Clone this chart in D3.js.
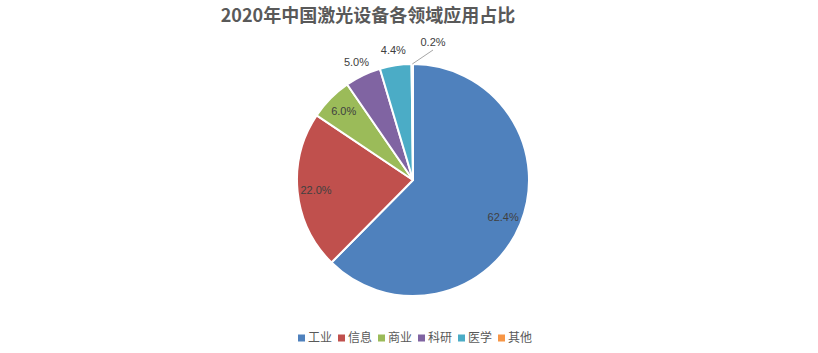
<!DOCTYPE html>
<html>
<head>
<meta charset="utf-8">
<script src="https://cdn.jsdelivr.net/npm/d3@7"></script>
<style>
  body { margin: 0; background: #fff; }
  svg { display: block; }
</style>
</head>
<body>
<div id="mainContainer"><svg></svg></div>
<script>
const WIDTH = 818;
const HEIGHT = 353;

// chart data
const categories = ['工业', '信息', '商业', '科研', '医学', '其他'];
const shares = [62.4, 22.0, 6.0, 5.0, 4.4, 0.2];
const colors = ['#4F81BD', '#C0504D', '#9BBB59', '#8064A2', '#4BACC6', '#F79646'];
const title = '2020年中国激光设备各领域应用占比';

const CX = 413, CY = 180, R = 116;

let svg = d3.select('svg')
    .attr('width', WIDTH)
    .attr('height', HEIGHT)
    .style('font-family', '"Noto Sans CJK SC", "Noto Sans", sans-serif');

svg.append('text')
    .attr('x', 368)
    .attr('y', 22)
    .attr('text-anchor', 'middle')
    .attr('font-size', 18)
    .attr('font-weight', 'bold')
    .attr('fill', '#595959')
    .text(title);

let data = categories.map((c, i) => ({ name: c, value: shares[i], color: colors[i] }));

let pie = d3.pie().sort(null).value(d => d.value);
let arcs = pie(data);
let arc = d3.arc().innerRadius(0).outerRadius(R);

let g = svg.append('g').attr('transform', `translate(${CX},${CY})`);

g.selectAll('path')
    .data(arcs)
    .enter()
    .append('path')
    .attr('d', arc)
    .attr('fill', d => d.data.color)
    .attr('stroke', '#fff')
    .attr('stroke-width', 2)
    .attr('stroke-linejoin', 'round');

// labels: inside for big slices, outside for small ones
const pos = (d, r) => {
    let a = (d.startAngle + d.endAngle) / 2;
    return [Math.sin(a) * r, -Math.cos(a) * r];
};

g.selectAll('text.lbl')
    .data(arcs)
    .enter()
    .append('text')
    .attr('class', 'lbl')
    .each(function (d) {
        let node = d3.select(this);
        let p;
        if (d.data.value >= 6) p = pos(d, R * 0.84);
        else if (d.data.value >= 1) p = pos(d, R * 1.13);
        else p = [20, -138];
        node.attr('x', p[0]).attr('y', p[1]);
    })
    .attr('text-anchor', 'middle')
    .attr('dy', '0.35em')
    .attr('font-size', 11)
    .attr('fill', '#404040')
    .style('font-family', '"Liberation Sans", Arial, sans-serif')
    .text(d => d.data.value.toFixed(1) + '%');

// leader line for the tiny slice
let tiny = arcs[arcs.length - 1];
let p0 = pos(tiny, R);
g.append('line')
    .attr('x1', p0[0]).attr('y1', p0[1])
    .attr('x2', 20).attr('y2', -130)
    .attr('stroke', '#a6a6a6')
    .attr('stroke-width', 1);

// legend
let legend = svg.append('g').attr('transform', 'translate(298,338)');
let item = legend.selectAll('g')
    .data(data)
    .enter()
    .append('g')
    .attr('transform', (d, i) => `translate(${i * 40},0)`);
item.append('rect')
    .attr('x', 0).attr('y', -3.5)
    .attr('width', 7).attr('height', 7)
    .attr('fill', d => d.color);
item.append('text')
    .attr('x', 10)
    .attr('dy', '0.35em')
    .attr('font-size', 12)
    .attr('fill', '#595959')
    .text(d => d.name);
</script>
</body>
</html>
